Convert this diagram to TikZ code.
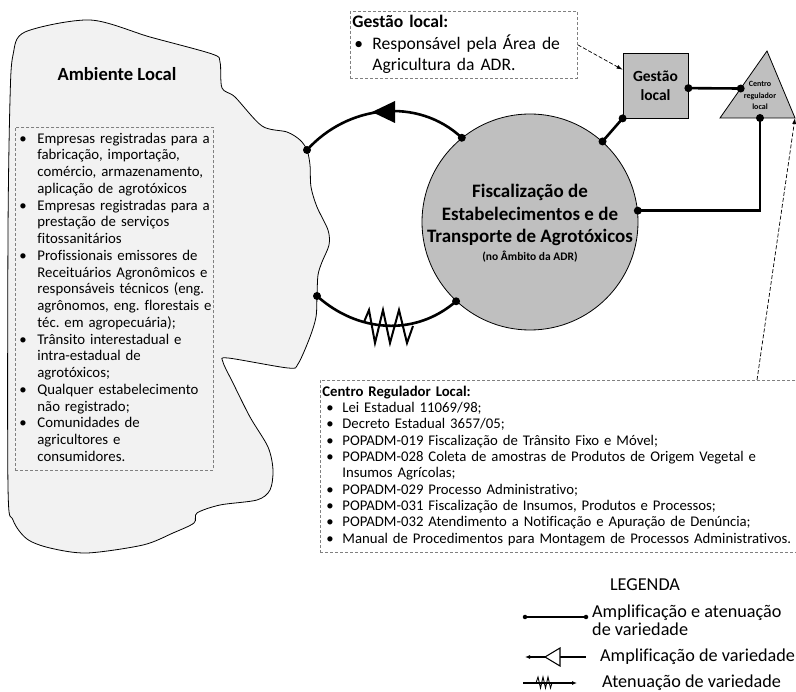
\documentclass[tikz,border=0pt]{standalone}
\usepackage{fontspec}
\setmainfont{Carlito}[Ligatures=NoCommon]
\usetikzlibrary{arrows.meta,calc}

\definecolor{blobfill}{HTML}{F2F2F2}
\definecolor{midgray}{HTML}{BFBFBF}
\definecolor{dashgray}{HTML}{808080}

\newcommand{\bodysize}{\fontsize{14.8}{16.75}\selectfont}
\newcommand{\regsize}{\fontsize{14.75}{16.3}\selectfont}
\newcommand{\notesize}{\fontsize{17.6}{20.5}\selectfont}
\newcommand{\legsize}{\fontsize{18.2}{17.5}\selectfont}
\newcommand{\bul}{\hspace{2pt}\textbullet}

\tikzset{
  dot/.style={circle,fill=black,inner sep=0pt,minimum size=8pt},
  smalldot/.style={circle,fill=black,inner sep=0pt,minimum size=4.5pt},
  link/.style={line width=2.6pt},
  notebox/.style={draw=dashgray,dash pattern=on 3pt off 2pt,line width=0.8pt},
  callout/.style={dash pattern=on 4pt off 2pt,line width=0.7pt,-{Latex[length=6pt,width=4pt]}},
  plain/.style={inner sep=0pt,align=left},
  legline/.style={line width=1.1pt},
}

\begin{document}
\frenchspacing
\begin{tikzpicture}[x=1pt,y=-1pt]
\useasboundingbox (0,0) rectangle (796,692);

% ---------- Ambiente Local (irregular region) ----------
\draw[fill=blobfill,line width=0.8pt] plot[smooth cycle,tension=0.5] coordinates {
  (25,32) (90,20) (150,37) (212,54) (220,62) (222,88) (235,97) (262,126)
  (287,132) (300,140) (307,150) (310,165) (311,187) (317,207) (328,230)
  (329,245) (322,262) (318,275) (317,296) (316,317) (310,337) (298,364)
  (288,368) (228,358) (223,362) (233,383) (250,417) (268,447) (273,470)
  (270,490) (257,500) (220,505) (197,513) (194,523) (173,533) (143,545)
  (87,553) (50,548) (27,539) (13,520) (8,487) (8,233) (10,100) (13,55)};
\coordinate (ambA) at (307,150);
\coordinate (ambB) at (317,296);

\node[font=\fontsize{18.6}{20}\selectfont\bfseries] (amb) at (117,74) {Ambiente Local};

\node[notebox,anchor=north west,inner xsep=2pt,inner ysep=4pt,text width=194pt,font=\bodysize] (amblist) at (15,127) {%
\noindent\begin{tabular}{@{}p{20pt}@{}l@{}}
\bul & Empresas registradas para a\\
     & fabricação, importação,\\
     & comércio, armazenamento,\\
     & aplicação de agrotóxicos\\
\bul & Empresas registradas para a\\
     & prestação de serviços\\
     & fitossanitários\\
\bul & Profissionais emissores de\\
     & Receituários Agronômicos e\\
     & responsáveis técnicos (eng.\\
     & agrônomos, eng. florestais e\\
     & téc. em agropecuária);\\
\bul & Trânsito interestadual e\\
     & intra-estadual de\\
     & agrotóxicos;\\
\bul & Qualquer estabelecimento\\
     & não registrado;\\
\bul & Comunidades de\\
     & agricultores e\\
     & consumidores.
\end{tabular}};

% ---------- central system ----------
\node[circle,draw,line width=0.8pt,fill=midgray,minimum size=216pt,inner sep=0pt] (fisc) at (530,222) {};
\node[align=center,font=\fontsize{19}{22.5}\selectfont\bfseries] (fisctext) at (530,223)
  {Fiscalização de\\Estabelecimentos e de\\Transporte de Agrotóxicos\\[-5pt]{\fontsize{11.5}{13}\selectfont (no Âmbito da ADR)}};

% ---------- Gestão local ----------
\node[draw,line width=0.8pt,fill=midgray,minimum width=65pt,minimum height=65pt,inner sep=0pt,
      align=center,font=\fontsize{15.5}{19}\selectfont\bfseries] (gl) at (655.5,85.5) {Gestão\\local};
\coordinate (glE) at ($(gl.south east)!0.46!(gl.north east)$);
\coordinate (glW) at ($(gl.north west)!0.26!(gl.south west)$);

% ---------- Centro regulador local ----------
\coordinate (tA) at (767,51);
\coordinate (tL) at (720,118);
\coordinate (tR) at (795,118);
\draw[fill=midgray,line width=0.8pt] (tA) -- (tR) -- (tL) -- cycle;
\node[align=center,font=\fontsize{8}{11.5}\selectfont\bfseries] (crl) at (760,95.5) {Centro\\regulador\\local};
\coordinate (crlW) at ($(tL)!0.44!(tA)$);
\coordinate (crlS) at ($(tL)!0.533!(tR)$);

% ---------- note boxes ----------
\node[notebox,anchor=north west,inner xsep=2pt,inner ysep=2pt,text width=223pt,font=\notesize] (gltext) at (350,11) {%
\noindent\begin{tabular}{@{}p{20pt}@{}l@{}}
\multicolumn{2}{@{}l@{}}{\bfseries Gestão local:}\\[1pt]
\bul & Responsável pela Área de\\
     & Agricultura da ADR.
\end{tabular}};

\node[notebox,anchor=north west,inner xsep=2pt,inner ysep=4.5pt,text width=480pt,font=\regsize] (crlbox) at (320,380) {%
\noindent\begin{tabular}{@{}p{20pt}@{}l@{}}
\multicolumn{2}{@{}l@{}}{\bfseries Centro Regulador Local:}\\
\hspace{4pt}\textbullet & Lei Estadual 11069/98;\\
\hspace{4pt}\textbullet & Decreto Estadual 3657/05;\\
\hspace{4pt}\textbullet & POPADM-019 Fiscalização de Trânsito Fixo e Móvel;\\
\hspace{4pt}\textbullet & POPADM-028 Coleta de amostras de Produtos de Origem Vegetal e\\
                        & Insumos Agrícolas;\\
\hspace{4pt}\textbullet & POPADM-029 Processo Administrativo;\\
\hspace{4pt}\textbullet & POPADM-031 Fiscalização de Insumos, Produtos e Processos;\\
\hspace{4pt}\textbullet & POPADM-032 Atendimento a Notificação e Apuração de Denúncia;\\
\hspace{4pt}\textbullet & Manual de Procedimentos para Montagem de Processos Administrativos.
\end{tabular}};
\coordinate (crlboxTop) at ($(crlbox.north west)+(437,0)$);

% ---------- connectors ----------
\draw[link] (ambA) to[out=48,in=137] (fisc.129);
\draw[link] (ambB) to[out=-42,in=221] (fisc.227);
\fill (372,112) -- (395,101) -- (395,123) -- cycle;
\draw[line width=2pt,line join=miter] (364,322) -- (369,310) -- (375,343) -- (383,310) -- (390,343)
  -- (399,310) -- (407,343) -- (413,326);
\draw[link] (fisc.48) -- (gl.south west);
\draw[link] (glE) -- (crlW);
\draw[link] (crlS) |- (fisc.6);

\draw[callout] (gltext.east) -- (glW);
\draw[callout] (crlboxTop) -- (tR);

\foreach \p in {ambA,ambB,fisc.129,fisc.227,fisc.48,fisc.6,gl.south west,glE,crlW,crlS}
  \node[dot] at (\p) {};

% ---------- legend ----------
\node[font=\legsize] (leg) at (645,585) {LEGENDA};

\coordinate (l1a) at (525,617);
\coordinate (l1b) at (586,617);
\draw[legline] (l1a) -- (l1b);
\node[smalldot] at (l1a) {};
\node[smalldot] at (l1b) {};
\node[plain,anchor=west,font=\legsize] (leg1) at (592,620) {Amplificação e atenuação\\de variedade};

\coordinate (l2a) at (525,657);
\coordinate (l2b) at (586,657);
\draw[legline,{Latex[length=5pt,width=4pt]}-] (l2a) -- (l2b);
\draw[legline,fill=white] (545,657) -- (560,648) -- (560,666) -- cycle;
\node[plain,anchor=west,font=\legsize] (leg2) at (600,657) {Amplificação de variedade};

\coordinate (l3a) at (523,683);
\coordinate (l3b) at (577,683);
\draw[legline,-{Latex[length=5pt,width=4pt]}] (l3a) -- (l3b);
\draw[line width=0.9pt] (536,683) -- (538,677) -- (540.5,688) -- (543,677) -- (545.5,688)
  -- (548,677) -- (550.5,688) -- (552,683);
\node[plain,anchor=west,font=\legsize] (leg3) at (602,683) {Atenuação de variedade};

\end{tikzpicture}
\end{document}
